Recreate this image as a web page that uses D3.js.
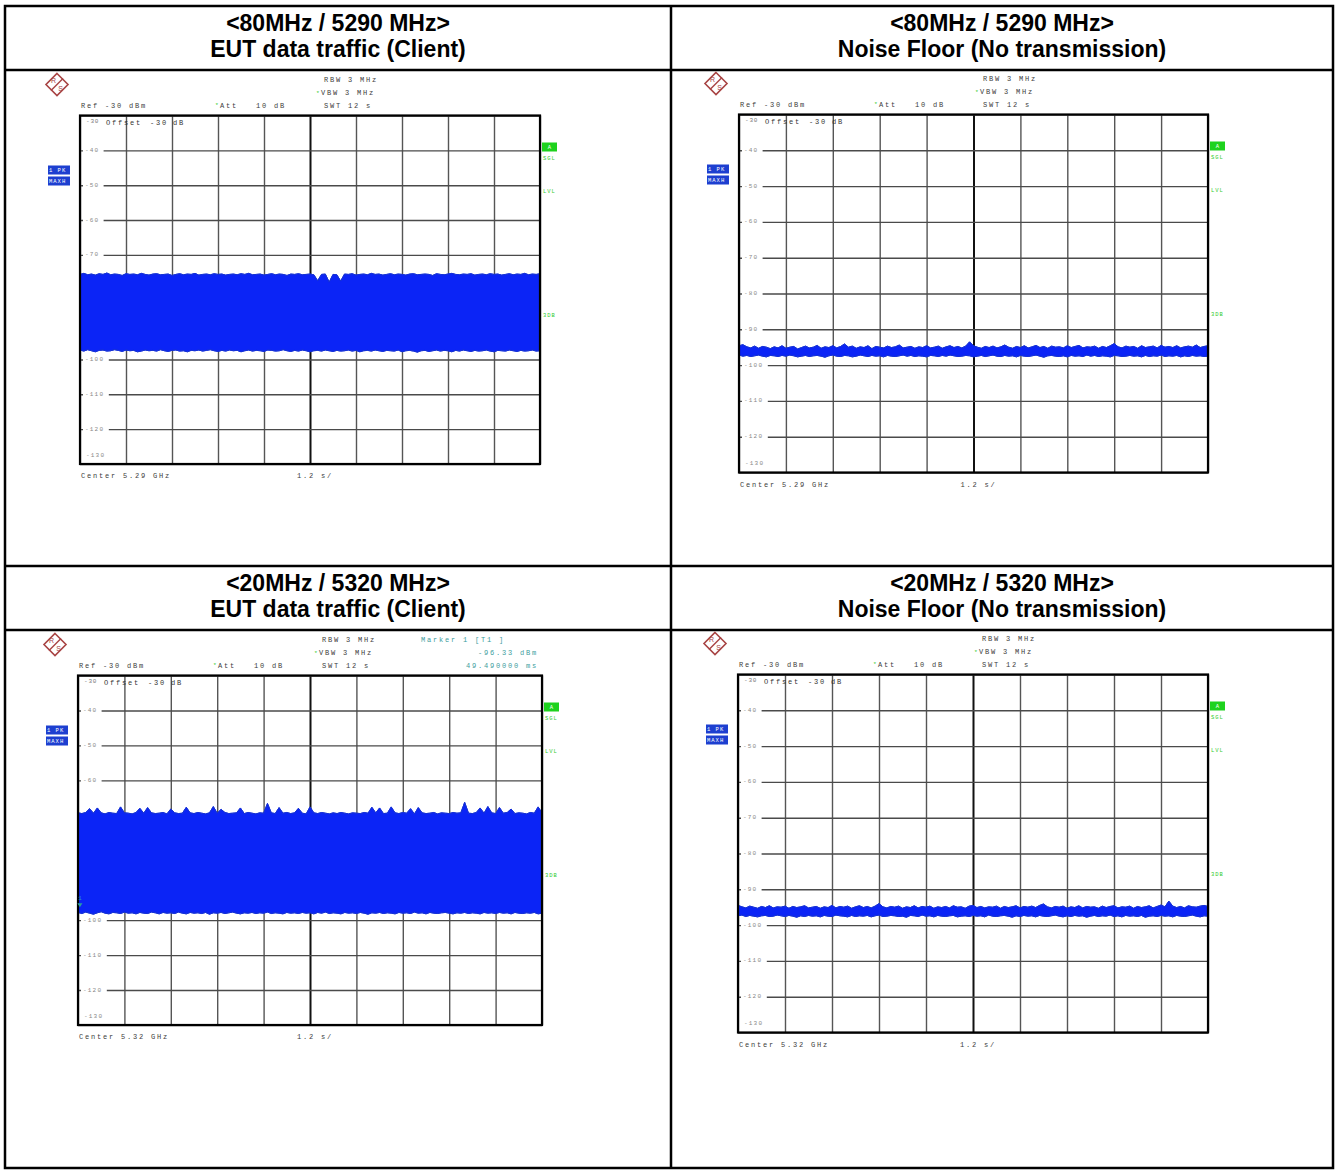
<!DOCTYPE html>
<html><head><meta charset="utf-8">
<script src="https://cdn.jsdelivr.net/npm/d3@7"></script>
<style>
body{margin:0;background:#fff}
text.mono{font-family:"Liberation Mono","DejaVu Sans Mono",monospace;white-space:pre}
</style>
</head><body>
<svg id="chart" width="1338" height="1174"></svg>
<script>
// ---------------- DATA ----------------
const headerLine1 = ["<80MHz / 5290 MHz>", "<80MHz / 5290 MHz>", "<20MHz / 5320 MHz>", "<20MHz / 5320 MHz>"];
const headerLine2 = ["EUT data traffic (Client)", "Noise Floor (No transmission)", "EUT data traffic (Client)", "Noise Floor (No transmission)"];
const centerLabels = ["Center 5.29 GHz", "Center 5.29 GHz", "Center 5.32 GHz", "Center 5.32 GHz"];
const levelTicks = [-30, -40, -50, -60, -70, -80, -90, -100, -110, -120, -130];
const levelTickLabels = ["-30", "-40", "-50", "-60", "-70", "-80", "-90", "-100", "-110", "-120", "-130"];
const timeDivisions = [0, 1.2, 2.4, 3.6, 4.8, 6.0, 7.2, 8.4, 9.6, 10.8, 12];
const sweepSeconds = 12;
const levelRange = [-130, -30];
const markerTime = 0.04949;   // s
const markerLevel = -96.33;   // dBm

// max-hold envelopes, one sample every 0.1 s (dBm)
const traffic80Upper = [
-75.6,-75.3,-75.7,-75.5,-75.8,-75.4,-75.6,-75.2,-75.7,-75.5,
-75.6,-75.9,-75.4,-75.6,-75.5,-75.7,-75.3,-75.6,-75.8,-75.5,
-75.4,-75.7,-75.6,-75.5,-75.9,-75.6,-75.4,-75.7,-75.5,-75.6,
-75.3,-75.8,-75.6,-75.5,-75.7,-75.4,-75.6,-75.5,-75.8,-75.6,
-75.5,-75.7,-75.4,-75.6,-75.3,-75.7,-75.6,-75.5,-75.8,-75.6,
-75.4,-75.7,-75.5,-75.6,-75.9,-75.5,-75.6,-75.4,-75.7,-75.6,
-75.5,-75.7,-77.4,-75.6,-75.5,-77.8,-75.6,-75.7,-77.5,-75.5,
-75.6,-75.4,-75.8,-75.6,-75.5,-75.7,-75.3,-75.6,-75.5,-75.8,
-75.6,-75.4,-75.7,-75.5,-75.6,-75.8,-75.5,-75.4,-75.7,-75.6,
-75.5,-75.6,-75.9,-75.4,-75.6,-75.7,-75.5,-75.3,-75.6,-75.7,
-75.5,-75.6,-75.4,-75.8,-75.6,-75.5,-75.7,-75.4,-75.6,-75.5,
-75.8,-75.6,-75.4,-75.7,-75.5,-75.6,-75.3,-75.7,-75.5,-75.6,
-75.4];
const traffic80Lower = [
-97.3,-97.6,-97.2,-97.5,-97.8,-97.4,-97.3,-97.6,-97.5,-97.2,
-97.4,-97.7,-97.3,-97.5,-97.4,-97.8,-97.6,-97.3,-97.5,-97.4,
-97.6,-97.2,-97.5,-97.7,-97.4,-97.3,-97.6,-97.5,-97.8,-97.4,
-97.5,-97.3,-97.6,-97.4,-97.2,-97.5,-97.7,-97.4,-97.6,-97.3,
-97.5,-97.4,-97.8,-97.5,-97.3,-97.6,-97.4,-97.5,-97.7,-97.3,
-97.4,-97.6,-97.5,-97.2,-97.5,-97.7,-97.4,-97.6,-97.3,-97.5,
-97.8,-97.5,-97.4,-97.6,-97.3,-97.5,-97.7,-97.4,-97.6,-97.5,
-97.3,-97.6,-97.4,-97.8,-97.5,-97.4,-97.6,-97.3,-97.5,-97.7,
-97.4,-97.5,-97.6,-97.3,-97.8,-97.5,-97.4,-97.6,-97.9,-97.5,
-97.4,-97.7,-97.5,-97.3,-97.6,-97.4,-97.5,-97.8,-97.4,-97.6,
-97.3,-97.5,-97.7,-97.4,-97.6,-97.5,-97.3,-97.6,-97.8,-97.4,
-97.5,-97.6,-97.3,-97.5,-97.7,-97.4,-97.6,-97.5,-97.3,-97.6,
-97.5];
const noise80Upper = [
-94.6,-94.3,-94.9,-95.2,-94.7,-95.3,-94.8,-95.0,-95.4,-94.9,
-95.2,-94.6,-95.3,-95.0,-94.8,-95.5,-95.1,-94.7,-95.2,-95.0,
-94.5,-95.3,-94.9,-95.1,-94.6,-95.2,-94.8,-94.1,-95.0,-94.7,
-95.3,-94.9,-95.1,-94.6,-95.4,-94.8,-95.0,-95.2,-94.7,-95.1,
-94.9,-94.4,-95.2,-95.0,-94.8,-95.3,-94.9,-95.1,-94.6,-95.2,
-95.0,-94.7,-95.3,-94.9,-94.6,-95.1,-94.8,-95.2,-94.7,-93.5,
-94.6,-95.0,-95.3,-94.8,-95.1,-94.7,-95.2,-94.9,-94.4,-95.0,
-95.3,-94.8,-95.1,-94.6,-95.2,-94.9,-94.5,-95.1,-94.8,-95.3,
-94.7,-95.0,-94.9,-95.2,-94.6,-95.1,-94.8,-94.5,-95.2,-94.9,
-95.0,-94.7,-95.3,-94.8,-95.1,-94.6,-94.0,-94.9,-95.2,-94.7,
-95.0,-94.8,-95.3,-94.6,-95.1,-94.9,-94.7,-95.2,-94.5,-95.0,
-94.8,-95.1,-94.6,-95.2,-94.9,-94.7,-95.0,-94.4,-95.1,-94.8,
-94.6];
const noise80Lower = [
-97.2,-97.5,-97.3,-97.6,-97.4,-97.2,-97.5,-97.7,-97.3,-97.4,
-97.6,-97.3,-97.5,-97.2,-97.4,-97.7,-97.5,-97.3,-97.6,-97.4,
-97.3,-97.5,-97.8,-97.4,-97.2,-97.5,-97.6,-97.3,-97.4,-97.7,
-97.5,-97.2,-97.4,-97.6,-97.3,-97.5,-97.4,-97.7,-97.3,-97.5,
-97.6,-97.4,-97.2,-97.5,-97.3,-97.6,-97.4,-97.5,-97.7,-97.3,
-97.4,-97.6,-97.3,-97.5,-97.2,-97.4,-97.6,-97.5,-97.3,-97.4,
-97.7,-97.5,-97.3,-97.6,-97.4,-97.2,-97.5,-97.6,-97.3,-97.5,
-97.4,-97.7,-97.3,-97.5,-97.6,-97.4,-97.2,-97.5,-97.8,-97.4,
-97.3,-97.5,-97.6,-97.4,-97.7,-97.3,-97.5,-97.4,-97.6,-97.2,
-97.5,-97.3,-97.6,-97.4,-97.5,-97.7,-97.3,-97.4,-97.6,-97.5,
-97.3,-97.5,-97.4,-97.7,-97.3,-97.6,-97.4,-97.5,-97.2,-97.6,
-97.4,-97.5,-97.3,-97.7,-97.4,-97.6,-97.3,-97.5,-97.4,-97.6,
-97.5];
const traffic20Upper = [
-69.3,-69.5,-69.2,-68.1,-69.4,-67.9,-69.3,-69.6,-69.2,-69.4,
-69.5,-67.6,-69.3,-69.4,-69.6,-69.2,-68.0,-69.4,-67.8,-69.3,
-69.5,-69.4,-69.2,-69.6,-68.2,-69.3,-69.5,-69.4,-67.7,-69.3,
-69.5,-69.2,-69.4,-69.6,-69.3,-67.5,-69.4,-68.3,-69.2,-69.5,
-69.4,-69.3,-67.9,-69.5,-69.2,-69.4,-69.6,-69.3,-69.4,-66.6,
-69.3,-69.5,-67.8,-69.4,-69.2,-69.5,-69.3,-68.0,-69.4,-69.6,
-67.6,-69.3,-69.5,-69.2,-69.4,-69.6,-69.3,-69.5,-69.2,-69.4,
-69.6,-69.3,-69.4,-69.5,-69.2,-69.4,-67.7,-69.3,-67.9,-69.5,
-69.4,-67.6,-69.3,-69.5,-69.2,-69.4,-68.1,-69.6,-67.8,-69.3,
-69.5,-69.4,-69.2,-69.6,-69.3,-69.4,-69.5,-69.2,-69.4,-69.3,
-66.3,-69.4,-69.5,-69.2,-67.9,-69.4,-67.5,-69.3,-69.5,-67.8,
-69.4,-69.2,-68.2,-69.5,-69.3,-69.4,-69.6,-69.2,-69.4,-67.6,
-69.3];
const traffic20Lower = [
-97.8,-98.1,-97.7,-98.0,-98.3,-97.9,-97.6,-98.0,-98.2,-97.8,
-97.9,-98.1,-97.7,-98.0,-97.9,-98.2,-97.8,-98.0,-98.1,-97.7,
-97.9,-98.2,-97.8,-98.0,-97.9,-98.1,-97.7,-98.0,-98.2,-97.8,
-98.0,-97.9,-98.1,-97.8,-98.3,-97.9,-98.0,-97.8,-98.1,-97.9,
-97.7,-98.0,-98.2,-97.9,-98.0,-97.8,-98.1,-97.9,-98.0,-97.7,
-98.1,-97.9,-98.0,-98.2,-97.8,-98.0,-97.9,-98.1,-97.8,-98.0,
-97.9,-98.2,-97.8,-98.0,-97.7,-98.1,-97.9,-98.0,-98.2,-97.8,
-98.0,-97.9,-98.1,-97.8,-98.0,-98.3,-97.9,-98.0,-97.8,-98.1,
-97.9,-98.0,-98.2,-97.8,-98.0,-97.9,-98.1,-97.7,-98.0,-97.9,
-98.2,-97.8,-98.0,-98.1,-97.9,-97.8,-98.0,-98.2,-97.9,-98.0,
-97.8,-98.1,-97.9,-98.0,-98.2,-97.8,-98.0,-97.9,-98.1,-97.8,
-98.0,-97.9,-98.2,-97.8,-98.0,-98.1,-97.9,-98.0,-97.8,-98.2,
-98.0];
const noise20Upper = [
-94.5,-94.9,-95.2,-94.7,-95.0,-95.3,-94.8,-95.1,-94.6,-95.2,
-94.9,-95.0,-94.7,-95.3,-94.8,-95.1,-94.9,-94.6,-95.2,-95.0,
-94.8,-95.3,-94.9,-95.1,-94.5,-95.2,-94.8,-95.0,-94.7,-95.3,
-94.9,-94.6,-95.1,-94.8,-95.2,-94.7,-94.0,-94.9,-95.2,-94.8,
-95.0,-94.7,-95.3,-94.9,-95.1,-94.6,-95.2,-94.8,-95.0,-94.7,
-95.3,-94.9,-95.1,-94.8,-95.2,-94.6,-95.0,-94.9,-95.3,-94.7,
-94.5,-95.1,-94.8,-95.2,-94.9,-95.0,-94.7,-95.3,-94.8,-95.1,
-94.9,-94.6,-95.2,-94.8,-95.0,-94.7,-95.1,-94.5,-94.1,-94.9,
-95.2,-94.8,-95.0,-94.7,-95.3,-94.9,-95.1,-94.6,-95.2,-94.8,
-95.0,-94.9,-95.3,-94.7,-95.1,-94.8,-94.6,-95.2,-94.9,-95.0,
-94.7,-95.3,-94.8,-95.1,-94.9,-94.6,-95.2,-94.8,-94.4,-94.9,
-93.3,-94.7,-95.1,-94.8,-95.2,-94.6,-94.9,-95.0,-94.7,-94.5,
-94.8];
const noise20Lower = [
-97.4,-97.2,-97.6,-97.3,-97.5,-97.7,-97.4,-97.3,-97.6,-97.5,
-97.2,-97.4,-97.6,-97.3,-97.5,-97.8,-97.4,-97.6,-97.3,-97.5,
-97.4,-97.7,-97.3,-97.5,-97.6,-97.2,-97.4,-97.5,-97.7,-97.3,
-97.6,-97.4,-97.5,-97.3,-97.7,-97.4,-97.2,-97.6,-97.5,-97.3,
-97.4,-97.6,-97.5,-97.8,-97.3,-97.4,-97.6,-97.2,-97.5,-97.4,
-97.7,-97.3,-97.5,-97.6,-97.4,-97.3,-97.7,-97.5,-97.4,-97.6,
-97.3,-97.5,-97.4,-97.7,-97.2,-97.5,-97.6,-97.4,-97.3,-97.5,
-97.8,-97.4,-97.6,-97.3,-97.5,-97.4,-97.7,-97.3,-97.5,-97.6,
-97.4,-97.2,-97.5,-97.7,-97.4,-97.6,-97.3,-97.5,-97.4,-97.8,
-97.5,-97.3,-97.6,-97.4,-97.5,-97.2,-97.6,-97.4,-97.7,-97.3,
-97.5,-97.4,-97.6,-97.3,-97.8,-97.5,-97.4,-97.6,-97.3,-97.5,
-97.4,-97.7,-97.3,-97.5,-97.6,-97.4,-97.2,-97.5,-97.7,-97.4,
-97.5];

// ---------------- LAYOUT ----------------
const W = 1338, H = 1174;
const tableBox = {x0: 5, x1: 1333, y0: 6, y1: 1168, colSplit: 671, rows: [70, 566, 630]};
const cells = [
  {cx: 338, top: 6,    fx0: 80,  fx1: 540,  fy0: 115.5, fy1: 464,    upper: traffic80Upper, lower: traffic80Lower, marker: false},
  {cx: 1002, top: 6,   fx0: 739, fx1: 1208, fy0: 114.5, fy1: 472.5,  upper: noise80Upper,   lower: noise80Lower,   marker: false},
  {cx: 338, top: 566,  fx0: 78,  fx1: 542,  fy0: 675.5, fy1: 1025,   upper: traffic20Upper, lower: traffic20Lower, marker: true},
  {cx: 1002, top: 566, fx0: 738, fx1: 1208, fy0: 674.5, fy1: 1032.5, upper: noise20Upper,   lower: noise20Lower,   marker: false}
];
const traceBlue = "#0b24f6", traceEdge = "#1430d8";
const green = "#2ecb2e", teal = "#3d9d9d", instrInk = "#3c3c3c";

const svg = d3.select("#chart");
svg.append("rect").attr("width", W).attr("height", H).attr("fill", "#fff");

// ---------------- TABLE ----------------
const tg = svg.append("g").attr("stroke", "#000").attr("stroke-width", 2.5).attr("fill", "none");
tg.append("rect").attr("x", tableBox.x0).attr("y", tableBox.y0)
  .attr("width", tableBox.x1 - tableBox.x0).attr("height", tableBox.y1 - tableBox.y0);
tableBox.rows.forEach(r => tg.append("line").attr("x1", tableBox.x0).attr("x2", tableBox.x1).attr("y1", r).attr("y2", r));
tg.append("line").attr("x1", tableBox.colSplit).attr("x2", tableBox.colSplit).attr("y1", tableBox.y0).attr("y2", tableBox.y1);

function mono(g, x, y, str, opts = {}) {
  return g.append("text").attr("class", "mono")
    .attr("x", x).attr("y", y)
    .attr("font-size", opts.size || 7)
    .attr("letter-spacing", opts.ls == null ? 1.8 : opts.ls)
    .attr("fill", opts.fill || instrInk)
    .attr("text-anchor", opts.anchor || "start")
    .attr("dominant-baseline", "central")
    .text(str);
}

cells.forEach((c, k) => {
  // headers
  const hg = svg.append("g").attr("font-family", "'Liberation Sans', Arial, sans-serif")
    .attr("font-weight", "bold").attr("font-size", 23).attr("text-anchor", "middle").attr("fill", "#000");
  hg.append("text").attr("x", c.cx).attr("y", c.top + 25).text(headerLine1[k]);
  hg.append("text").attr("x", c.cx).attr("y", c.top + 51).text(headerLine2[k]);

  const x = d3.scaleLinear().domain([0, sweepSeconds]).range([c.fx0, c.fx1]);
  const y = d3.scaleLinear().domain(levelRange).range([c.fy1, c.fy0]);
  const g = svg.append("g");
  const fw = c.fx1 - c.fx0, fh = c.fy1 - c.fy0;

  // grid via axes
  const gx = g.append("g").attr("transform", `translate(0,${c.fy1})`)
    .call(d3.axisBottom(x).tickValues(timeDivisions).tickSize(-fh).tickFormat(""));
  gx.select(".domain").remove();
  gx.selectAll(".tick line").attr("stroke", (d) => d === 6 ? "#111" : "#555")
    .attr("stroke-width", d => d === 6 ? 2 : 1.4);
  const gy = g.append("g").attr("transform", `translate(${c.fx0},0)`)
    .call(d3.axisLeft(y).tickValues(levelTicks).tickSize(-fw).tickFormat(""));
  gy.select(".domain").remove();
  gy.selectAll(".tick line").attr("stroke", "#4a4a4a").attr("stroke-width", 1.4);

  // level labels (under the trace)
  levelTicks.forEach((v, i) => {
    const lbl = levelTickLabels[i];
    if (i === 0) {
      mono(g, c.fx0 + 6, c.fy0 + 6, lbl, {size: 6, ls: 0.8, fill: "#777"});
    } else if (i === levelTicks.length - 1) {
      mono(g, c.fx0 + 6, c.fy1 - 9, lbl, {size: 6, ls: 1.2, fill: "#888"});
    } else {
      const wpx = lbl.length * 5.2 + 5;
      g.append("rect").attr("x", c.fx0 + 3).attr("y", y(v) - 4).attr("width", wpx).attr("height", 8).attr("fill", "#fff");
      mono(g, c.fx0 + 5, y(v), lbl, {size: 6, ls: 1.2, fill: "#888"});
    }
  });
  mono(g, c.fx0 + 26, c.fy0 + 7, "Offset", {fill: "#333"});
  mono(g, c.fx0 + 70, c.fy0 + 7, "-30", {fill: "#333"});
  mono(g, c.fx0 + 93, c.fy0 + 7, "dB", {fill: "#333"});

  // trace
  const clipId = "clip" + k;
  svg.append("clipPath").attr("id", clipId).append("rect")
    .attr("x", c.fx0).attr("y", c.fy0).attr("width", fw).attr("height", fh);
  const step = sweepSeconds / (c.upper.length - 1);
  const area = d3.area().x((d, i) => x(i * step)).y0((d, i) => y(c.lower[i])).y1(d => y(d));
  const tg2 = g.append("g").attr("clip-path", `url(#${clipId})`);
  tg2.append("path").datum(c.upper).attr("d", area).attr("fill", traceBlue).attr("stroke", traceEdge).attr("stroke-width", 0.9);
  const lineU = d3.line().x((d, i) => x(i * step)).y(d => y(d));
  tg2.append("path").datum(c.upper).attr("d", lineU).attr("fill", "none").attr("stroke", traceEdge).attr("stroke-width", 1);
  tg2.append("path").datum(c.lower).attr("d", lineU).attr("fill", "none").attr("stroke", traceEdge).attr("stroke-width", 1);

  // frame
  g.append("rect").attr("x", c.fx0).attr("y", c.fy0).attr("width", fw).attr("height", fh)
    .attr("fill", "none").attr("stroke", "#000").attr("stroke-width", 2.2);

  // header annotations
  mono(g, c.fx0 + 1, c.fy0 - 10, "Ref -30 dBm");
  mono(g, c.fx0 + 135, c.fy0 - 10, "*", {fill: green, size: 6});
  mono(g, c.fx0 + 140, c.fy0 - 10, "Att   10 dB");
  mono(g, c.fx0 + 244, c.fy0 - 35.5, "RBW 3 MHz");
  mono(g, c.fx0 + 236, c.fy0 - 22.5, "*", {fill: green, size: 6});
  mono(g, c.fx0 + 241, c.fy0 - 22.5, "VBW 3 MHz");
  mono(g, c.fx0 + 244, c.fy0 - 10, "SWT 12 s");

  // footer
  mono(g, c.fx0 + 1, c.fy1 + 12, centerLabels[k]);
  mono(g, x(sweepSeconds / 2) - 13, c.fy1 + 12, "1.2 s/");

  // R&S logo
  const lg = g.append("g").attr("transform", `translate(${c.fx0 - 23},${c.fy0 - 31})`);
  lg.append("path").attr("d", "M0,-11 L11,0 L0,11 L-11,0 Z").attr("fill", "#fff").attr("stroke", "#a84444").attr("stroke-width", 1.6);
  lg.append("path").attr("d", "M6,-6 L-6,6").attr("stroke", "#a84444").attr("stroke-width", 1.4);
  lg.append("text").attr("x", -3.5).attr("y", -2).attr("font-size", 7).attr("font-family", "'Liberation Sans',Arial")
    .attr("fill", "#a84444").attr("text-anchor", "middle").text("R");
  lg.append("text").attr("x", 3.5).attr("y", 6).attr("font-size", 7).attr("font-family", "'Liberation Sans',Arial")
    .attr("fill", "#a84444").attr("text-anchor", "middle").text("S");

  // 1 PK / MAXH boxes
  [["1 PK", 50], ["MAXH", 61]].forEach(([t, dy]) => {
    g.append("rect").attr("x", c.fx0 - 32).attr("y", c.fy0 + dy).attr("width", 22).attr("height", 9).attr("fill", "#1d3fd0");
    mono(g, c.fx0 - 31, c.fy0 + dy + 4.6, t, {size: 5.5, ls: 1.0, fill: "#fff"});
  });

  // right side status labels
  g.append("rect").attr("x", c.fx1 + 2).attr("y", c.fy0 + 27).attr("width", 15).attr("height", 9).attr("fill", "#1ed21e");
  mono(g, c.fx1 + 9.5, c.fy0 + 31.6, "A", {size: 5.5, ls: 0, fill: "#fff", anchor: "middle"});
  mono(g, c.fx1 + 3, c.fy0 + 43, "SGL", {size: 5.5, ls: 1, fill: green});
  mono(g, c.fx1 + 3, c.fy0 + 76, "LVL", {size: 5.5, ls: 1, fill: green});
  mono(g, c.fx1 + 3, c.fy0 + 200, "3DB", {size: 5.5, ls: 1, fill: green});

  if (c.marker) {
    mono(g, c.fx0 + 343, c.fy0 - 35.5, "Marker 1 [T1 ]", {fill: teal});
    mono(g, c.fx1 - 4, c.fy0 - 22.5, markerLevel.toFixed(2) + " dBm", {fill: teal, anchor: "end"});
    mono(g, c.fx1 - 4, c.fy0 - 10, "49.490000 ms", {fill: teal, anchor: "end"});
    const mx = x(markerTime), my = y(markerLevel);
    g.append("path").attr("d", `M${mx - 2.5},${my - 4} L${mx + 2.5},${my - 4} L${mx},${my} Z`).attr("fill", "#2aa0a0");
    mono(g, mx, my - 9, "1", {size: 5.5, ls: 0, fill: "#2aa0a0", anchor: "middle"});
  }
});
</script>
</body></html>
